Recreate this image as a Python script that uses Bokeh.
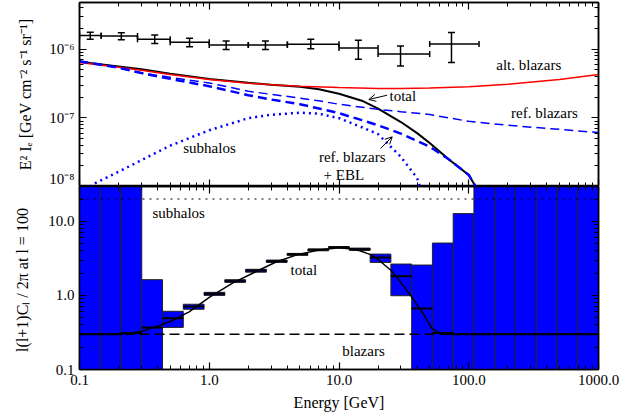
from bokeh.plotting import figure
from bokeh.models import (LogAxis, FixedTicker, Range1d, ColumnDataSource, Label,
                          Arrow, OpenHead, Whisker, TeeHead)
from bokeh.layouts import column
from bokeh.embed import file_html
from bokeh.resources import INLINE

FONT = "Liberation Serif, Times New Roman, serif"

# ---------------- top panel: intensity ----------------
data_lo = [0.1, 0.147, 0.28, 0.5, 1.0, 2.0, 4.0, 10.0, 20.0, 50.0]
data_hi = [0.147, 0.28, 0.5, 1.0, 2.0, 4.0, 10.0, 20.0, 50.0, 120.0]
data_e = [0.121, 0.21, 0.38, 0.705, 1.35, 2.71, 6.06, 14.1, 29.8, 73.6]
data_flux = [1.58e-6, 1.56e-6, 1.40e-6, 1.26e-6, 1.155e-6, 1.155e-6, 1.18e-6, 1.045e-6, 0.854e-6, 1.195e-6]
data_up = [1.77e-6, 1.74e-6, 1.61e-6, 1.45e-6, 1.32e-6, 1.32e-6, 1.40e-6, 1.35e-6, 1.117e-6, 1.75e-6]
data_dn = [1.40e-6, 1.38e-6, 1.21e-6, 1.09e-6, 0.99e-6, 0.99e-6, 1.02e-6, 0.715e-6, 0.571e-6, 0.64e-6]

alt_e = [0.1, 0.2, 0.3, 0.5, 1.0, 2.0, 3.0, 5.0, 10.0, 20.0, 30.0, 50.0, 100.0, 200.0, 500.0, 1000.0]
alt_f = [6.4e-7, 5.47e-7, 4.95e-7, 4.28e-7, 3.62e-7, 3.2e-7, 3.04e-7, 2.89e-7, 2.77e-7, 2.68e-7, 2.68e-7,
         2.72e-7, 2.83e-7, 3.1e-7, 3.62e-7, 4.3e-7]

tot_e = [0.1, 0.2, 0.3, 0.5, 1.0, 2.0, 3.0, 5.0, 7.0, 10.0, 15.0, 20.0, 30.0, 40.0, 50.0, 70.0, 100.0, 113.0]
tot_f = [6.6e-7, 5.6e-7, 5.1e-7, 4.4e-7, 3.7e-7, 3.25e-7, 3.05e-7, 2.85e-7, 2.62e-7, 2.25e-7, 1.78e-7,
         1.36e-7, 8.7e-8, 6.0e-8, 4.3e-8, 2.5e-8, 1.47e-8, 1.0e-8]

ref_e = [0.1, 0.2, 0.3, 0.5, 1.0, 2.0, 3.0, 5.0, 7.0, 10.0, 20.0, 30.0, 50.0, 100.0, 200.0, 500.0, 1000.0]
ref_f = [6.7e-7, 5.4e-7, 4.5e-7, 3.9e-7, 3.23e-7, 2.45e-7, 2.2e-7, 1.94e-7, 1.77e-7, 1.58e-7, 1.33e-7,
         1.23e-7, 1.12e-7, 8.9e-8, 7.8e-8, 6.8e-8, 6.1e-8]

ebl_e = [0.1, 0.2, 0.3, 0.5, 1.0, 2.0, 3.0, 5.0, 7.0, 10.0, 15.0, 20.0, 30.0, 40.0, 50.0, 70.0, 100.0, 113.0]
ebl_f = [6.7e-7, 5.4e-7, 4.5e-7, 3.7e-7, 2.89e-7, 2.14e-7, 1.85e-7, 1.58e-7, 1.37e-7, 1.17e-7, 9.26e-8,
         7.8e-8, 5.9e-8, 4.6e-8, 3.8e-8, 2.5e-8, 1.47e-8, 1.0e-8]

sub_e = [0.12, 0.13, 0.2, 0.3, 0.5, 1.0, 2.0, 3.0, 5.0, 7.0, 10.0, 15.0, 20.0, 30.0, 40.0, 42.0]
sub_f = [1.0e-8, 1.1e-8, 1.64e-8, 2.42e-8, 3.94e-8, 6.6e-8, 9.9e-8, 1.11e-7, 1.19e-7, 1.15e-7, 9.9e-8,
         7.3e-8, 5.8e-8, 2.7e-8, 1.33e-8, 1.0e-8]

# ---------------- bottom panel: anisotropy ----------------
bin_edges = [0.1, 0.1445, 0.2089, 0.302, 0.4365, 0.631, 0.912, 1.318, 1.905, 2.754, 3.981, 5.754,
             8.318, 12.02, 17.38, 25.12, 36.31, 52.48, 75.86, 109.6, 158.5, 229.1, 331.1, 478.6, 691.8, 1000.0]
cl_val = [0.3, 0.3, 0.31, 0.37, 0.49, 0.71, 1.05, 1.55, 2.16, 2.9, 3.58, 4.15, 4.45, 4.2, 3.26, 1.81,
          0.667, 0.31, 0.30, 0.30, 0.30, 0.30, 0.30, 0.30, 0.30]
cl_lo = [0.01, 0.01, 0.01, 0.01, 0.37, 0.65, 1.0, 1.5, 2.06, 2.79, 3.47, 4.0, 4.35, 4.05, 2.79, 0.99,
         0.01, 0.01, 0.01, 0.01, 0.01, 0.01, 0.01, 0.01, 0.01]
cl_hi = [100, 100, 100, 1.63, 0.61, 0.76, 1.1, 1.63, 2.25, 3.0, 3.69, 4.2, 4.55, 4.35, 3.61, 2.65,
         2.57, 5.09, 12.7, 100, 100, 100, 100, 100, 100]

cl_tot_e = [0.1, 0.2, 0.25, 0.3, 0.4, 0.5, 0.7, 1.0, 1.5, 2.3, 3.3, 4.8, 7.0, 10.0, 12.0, 14.5, 17.5,
            20.0, 25.0, 30.0, 36.0, 40.0, 45.0, 52.0, 60.0, 70.0, 1000.0]
cl_tot = [0.3, 0.302, 0.31, 0.325, 0.385, 0.445, 0.6, 0.94, 1.45, 2.1, 2.85, 3.55, 4.1, 4.4, 4.25, 4.0,
          3.55, 3.05, 2.2, 1.5, 0.97, 0.75, 0.55, 0.36, 0.31, 0.3, 0.3]
blazar_level = 0.3
subhalo_level = 20.0
line_e = [0.1, 1000.0]

x_ticks = [0.1, 1.0, 10.0, 100.0, 1000.0]
x_tick_labels = ["0.1", "1.0", "10.0", "100.0", "1000.0"]
top_ticks = [1e-8, 1e-7, 1e-6]
top_tick_labels = ["10⁻⁸", "10⁻⁷", "10⁻⁶"]
bot_ticks = [0.1, 1.0, 10.0]
bot_tick_labels = ["0.1", "1.0", "10.0"]


def minors(lo, hi):
    return [m * 10.0 ** e for e in range(lo, hi) for m in range(2, 10)]


def make_axis(ticks, minor, labels=None, title=None, title_standoff=8):
    ax = LogAxis(ticker=FixedTicker(ticks=ticks, minor_ticks=minor))
    ax.major_tick_in = 7
    ax.major_tick_out = 0
    ax.minor_tick_in = 4
    ax.minor_tick_out = 0
    ax.axis_line_color = "black"
    ax.axis_line_width = 1.5
    ax.major_tick_line_width = 1.2
    ax.minor_tick_line_width = 1
    ax.major_tick_line_color = "black"
    ax.minor_tick_line_color = "black"
    if labels is not None:
        ax.major_label_overrides = {t: s for t, s in zip(ticks, labels)}
        ax.major_label_text_font = FONT
        ax.major_label_text_font_size = "15px"
        ax.major_label_text_color = "black"
        ax.major_label_standoff = 5
    else:
        ax.major_label_overrides = {t: "" for t in ticks}
        ax.major_label_text_font_size = "0px"
        ax.major_label_standoff = 0
    if title is not None:
        ax.axis_label = title
        ax.axis_label_text_font = FONT
        ax.axis_label_text_font_size = "16px"
        ax.axis_label_text_font_style = "normal"
        ax.axis_label_text_color = "black"
        ax.axis_label_standoff = title_standoff
    return ax


xr = Range1d(0.1, 1000.0)
x_minor = minors(-1, 3)


def make_fig(y_range, fh, top):
    p = figure(x_range=xr, y_range=y_range, x_axis_type="log", y_axis_type="log",
               frame_width=519, frame_height=fh, min_border_left=79, min_border_right=35,
               min_border_top=top, min_border_bottom=0, x_axis_location=None, y_axis_location=None,
               toolbar_location=None, output_backend="svg", background_fill_color="white")
    p.outline_line_color = "black"
    p.outline_line_width = 1.5
    p.grid.visible = False
    return p


p1 = make_fig(Range1d(1e-8, 4.8e-6), 184, 2)
p1.add_layout(make_axis(top_ticks, minors(-8, -5), top_tick_labels,
                        "E² Iₑ [GeV cm⁻² s⁻¹ sr⁻¹]", 12), "left")
p1.add_layout(make_axis(top_ticks, minors(-8, -5)), "right")
p1.add_layout(make_axis(x_ticks, x_minor), "below")
p1.add_layout(make_axis(x_ticks, x_minor), "above")

src = ColumnDataSource(dict(e=data_e, f=data_flux, up=data_up, dn=data_dn, lo=data_lo, hi=data_hi))
p1.add_layout(Whisker(source=src, base="f", lower="lo", upper="hi", dimension="width",
                      line_color="black", line_width=1.5,
                      lower_head=TeeHead(size=6, line_width=1.5, line_color="black"),
                      upper_head=TeeHead(size=6, line_width=1.5, line_color="black")))
p1.add_layout(Whisker(source=src, base="e", lower="dn", upper="up", dimension="height",
                      line_color="black", line_width=1.5,
                      lower_head=TeeHead(size=7, line_width=1.5, line_color="black"),
                      upper_head=TeeHead(size=7, line_width=1.5, line_color="black")))

p1.line(tot_e, tot_f, line_color="black", line_width=2)
p1.line(alt_e, alt_f, line_color="#ff0000", line_width=1.5)
p1.line(ref_e, ref_f, line_color="#0000ff", line_width=1.5, line_dash="9 5")
p1.line(ebl_e, ebl_f, line_color="#0000ff", line_width=2.5, line_dash="9 5")
p1.line(sub_e, sub_f, line_color="#0000ff", line_width=2.5, line_dash="2 4")

lab = dict(text_font=FONT, text_font_size="15px", text_color="black", text_baseline="middle")
p1.add_layout(Label(x=163.0, y=5.85e-7, text="alt. blazars", **lab))
p1.add_layout(Label(x=24.5, y=2.05e-7, text="total", **lab))
p1.add_layout(Label(x=212.0, y=1.16e-7, text="ref. blazars", **lab))
p1.add_layout(Label(x=7.0, y=2.7e-8, text="ref. blazars", **lab))
p1.add_layout(Label(x=7.6, y=1.47e-8, text="+ EBL", **lab))
p1.add_layout(Label(x=0.63, y=3.59e-8, text="subhalos", **lab))
p1.add_layout(Arrow(end=OpenHead(size=7, line_width=1, line_color="black"),
                    x_start=23.5, y_start=2.14e-7, x_end=16.97, y_end=1.85e-7,
                    line_color="black", line_width=1))
p1.add_layout(Arrow(end=OpenHead(size=7, line_width=1, line_color="black"),
                    x_start=20.9, y_start=3.59e-8, x_end=25.7, y_end=5.29e-8,
                    line_color="black", line_width=1))

# ---------------- bottom figure ----------------
p2 = make_fig(Range1d(0.1, 29.5), 183, 0)
p2.add_layout(make_axis(bot_ticks, minors(-1, 2), bot_tick_labels,
                        "l(l+1)Cₗ / 2π  at l = 100", 14), "left")
p2.add_layout(make_axis(bot_ticks, minors(-1, 2)), "right")
p2.add_layout(make_axis(x_ticks, x_minor, x_tick_labels, "Energy [GeV]", 6), "below")
p2.add_layout(make_axis(x_ticks, x_minor), "above")

bsrc = ColumnDataSource(dict(l=bin_edges[:-1], r=bin_edges[1:], v=cl_val, lo=cl_lo, hi=cl_hi))
p2.quad(left="l", right="r", bottom="lo", top="hi", source=bsrc,
        fill_color="#0000ff", line_color="#222222", line_width=1)
p2.segment(x0="l", x1="r", y0="v", y1="v", source=bsrc, line_color="black", line_width=2)
p2.line(line_e, [blazar_level, blazar_level], line_color="black", line_width=1.5, line_dash="10 5")
p2.line(line_e, [subhalo_level, subhalo_level], line_color="black", line_width=1.2, line_dash="2 5")
p2.line(cl_tot_e, cl_tot, line_color="black", line_width=1.5)

p2.add_layout(Label(x=0.365, y=12.9, text="subhalos", **lab))
p2.add_layout(Label(x=4.23, y=2.22, text="total", **lab))
p2.add_layout(Label(x=10.6, y=0.18, text="blazars", **lab))

layout = column(p1, p2, spacing=0)
open("out.html", "w").write(file_html(layout, INLINE))
